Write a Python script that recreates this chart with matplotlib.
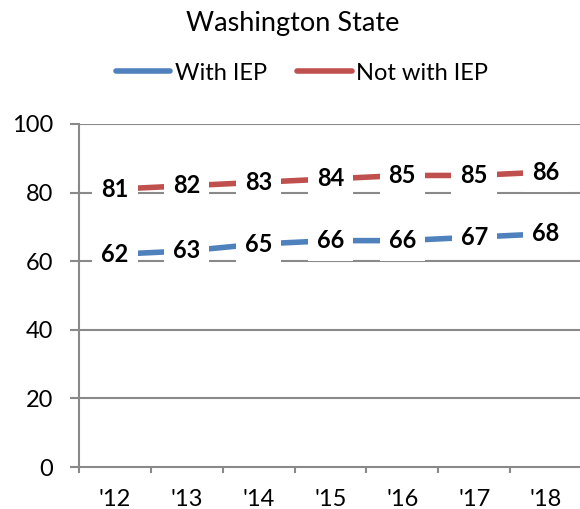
import matplotlib
matplotlib.use("Agg")
import matplotlib.pyplot as plt
import numpy as np

# Graduation rates, Washington State
years = ["'12", "'13", "'14", "'15", "'16", "'17", "'18"]
with_iep = [62, 63, 65, 66, 66, 67, 68]
not_with_iep = [81, 82, 83, 84, 85, 85, 86]
series_names = ["With IEP", "Not with IEP"]
y_ticks = [0, 20, 40, 60, 80, 100]

BLUE = "#4F81BD"
RED = "#C0504D"
GRID = "#898989"

plt.rcParams["font.family"] = ["Lato", "DejaVu Sans"]

fig = plt.figure(figsize=(5.8, 5.09), dpi=100)
W, H = 580, 509
left, right = 79 / W, 582 / W
bottom, top = (H - 467) / H, (H - 124) / H
ax = fig.add_axes([left, bottom, right - left, top - bottom])

x = np.arange(len(years))
ax.set_xlim(-0.5, len(years) - 0.5)
ax.set_ylim(0, 100)

for vals, color, name in [(with_iep, BLUE, series_names[0]),
                          (not_with_iep, RED, series_names[1])]:
    ax.plot(x, vals, color=color, lw=4, solid_capstyle="round",
            label=name, zorder=3)
    for xi, v in zip(x, vals):
        ax.text(xi, v, str(v), ha="center", va="center", fontsize=17,
                fontweight="bold", color="black", zorder=4,
                bbox=dict(facecolor="white", edgecolor="none", pad=6.5))

# horizontal gridlines
ax.set_yticks(y_ticks)
for yv in y_ticks[1:]:
    ax.axhline(yv, color=GRID, lw=1.5, zorder=1)

# x ticks at category boundaries, labels at category centres
ax.set_xticks(np.arange(-0.5, len(years)), minor=False)
ax.set_xticklabels([])
ax.set_xticks(x, minor=True)
ax.set_xticklabels(years, minor=True)
ax.tick_params(axis="x", which="major", length=4.5, width=1.5, color=GRID,
               direction="out")
ax.tick_params(axis="x", which="minor", length=0, pad=16, labelsize=17)
ax.tick_params(axis="y", length=6.5, width=1.5, color=GRID, direction="out",
               pad=12, labelsize=17)

for side in ["top", "right"]:
    ax.spines[side].set_visible(False)
for side in ["left", "bottom"]:
    ax.spines[side].set_color(GRID)
    ax.spines[side].set_linewidth(1.5)
    ax.spines[side].set_zorder(2)

fig.text(293 / W, 1 - 23 / H, "Washington State", ha="center", va="center",
         fontsize=19.5)

handles, labels = ax.get_legend_handles_labels()
fig.legend(handles, labels, loc="center", bbox_to_anchor=(302 / W, 1 - 73 / H),
           ncol=2, frameon=False, fontsize=17, handlelength=2.3,
           handletextpad=0.2, columnspacing=1.3, borderaxespad=0)

fig.savefig("out.png", dpi=100, facecolor="white")
